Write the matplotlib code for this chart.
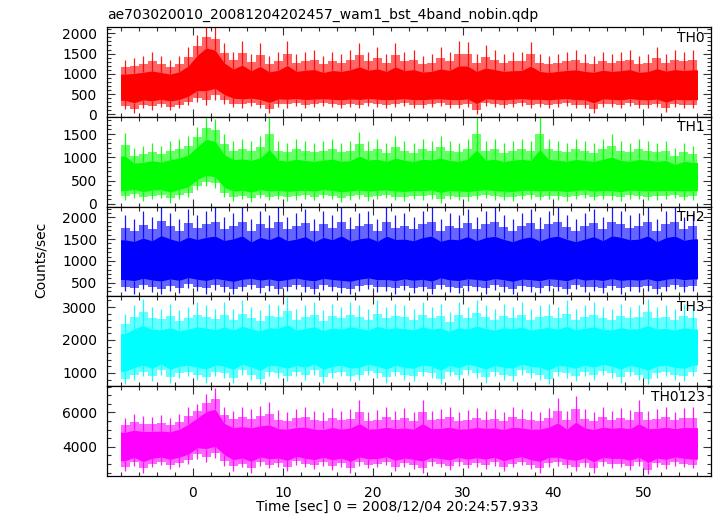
import numpy as np
import matplotlib
matplotlib.use("Agg")
import matplotlib.pyplot as plt
from matplotlib.ticker import MultipleLocator

plt.rcParams['font.family'] = ['DejaVu Sans']

title = "ae703020010_20081204202457_wam1_bst_4band_nobin.qdp"
xlabel = "Time [sec] 0 = 2008/12/04 20:24:57.933"
ylabel = "Counts/sec"
bands = ["TH0", "TH1", "TH2", "TH3", "TH0123"]
colors = ["#ff0000", "#00ff00", "#0000ff", "#00ffff", "#ff00ff"]

# 1-second bins from -8 s to 56 s
t_start, t_end = -8, 56

# ---- TH0 ----
th0_mean = [700, 690, 700, 680, 690, 700, 720, 820, 1050, 1180, 1120, 880,
            760, 740, 730, 720, 720, 710, 720, 700, 710, 700, 690, 700, 700, 690,
            700, 710, 690, 700, 700, 690, 700, 710, 700, 690, 700, 700, 710, 700,
            690, 700, 700, 690, 700, 710, 700, 690, 700, 700, 690, 700, 700, 710,
            700, 690, 700, 700, 690, 700, 710, 700, 700, 690]
th0_hi = [1350, 1400, 1450, 1550, 1450, 1350, 1450, 1650, 1950, 2200, 2150, 1750,
          1550, 1800, 1500, 1750, 1450, 1550, 1800, 1500, 1550, 1600, 1450, 1550,
          1500, 1600, 1750, 1550, 1650, 1500, 1750, 1550, 1600, 1450, 1500, 1650,
          1550, 1800, 1780, 1500, 1700, 1600, 1500, 1550, 1550, 1780, 1500, 1450,
          1500, 1550, 1600, 1500, 1450, 1550, 1500, 1550, 1600, 1450, 1500, 1650,
          1500, 1600, 1550, 1600]
th0_lo = [130, 40, 150, 120, 180, 100, 150, 220, 300, 220, 350, 250,
          180, 160, 200, 150, 30, 180, 160, 200, 150, 180, 200, 170, 150, 190,
          160, 200, 180, 150, 170, 200, 160, 150, 180, 200, 160, 150, 180, 0,
          200, 170, 150, 180, 200, 160, 170, 150, 180, 200, 160, 150, 30, 180,
          170, 150, 200, 160, 150, 180, 50, 170, 150, 160]

# ---- TH1 ----
th1_mean = [620, 610, 600, 620, 610, 620, 640, 720, 880, 1000, 950, 700,
            620, 610, 600, 610, 600, 600, 610, 600, 590, 600, 610, 600, 600, 590,
            600, 610, 600, 590, 600, 600, 590, 600, 610, 600, 590, 600, 600, 590,
            600, 600, 590, 600, 600, 590, 600, 590, 600, 600, 590, 600, 590, 600,
            600, 590, 600, 590, 600, 600, 590, 560, 600, 600]
th1_hi = [1530, 1200, 1250, 1300, 1250, 1350, 1400, 1450, 1650, 1860, 1820, 1500,
          1350, 1400, 1350, 1450, 1860, 1350, 1300, 1400, 1350, 1300, 1350, 1400,
          1300, 1350, 1550, 1350, 1400, 1300, 1450, 1350, 1300, 1400, 1350, 1450,
          1350, 1300, 1400, 1860, 1350, 1400, 1300, 1350, 1400, 1350, 1860, 1400,
          1350, 1300, 1400, 1350, 1300, 1400, 1500, 1350, 1300, 1400, 1350, 1300,
          1350, 1200, 1300, 1250]
th1_lo = [80, 130, 60, 100, 120, 30, 110, 150, 300, 380, 350, 150,
          60, 100, 40, 120, 80, 100, 60, 90, 110, 80, 120, 100, 50, 90,
          110, 70, 100, 120, 80, 60, 100, 90, 110, 30, 100, 80, 60, 100,
          120, 90, 80, 60, 100, 110, 80, 100, 90, 60, 100, 120, 80, 100,
          90, 60, 110, 100, 80, 90, 100, 120, 80, 90]

# ---- TH2 ----
th2_mean = [1020, 1030, 1010, 1020, 1040, 1020, 1030, 1010, 1030, 1040, 1020, 1030,
            1020, 1030, 1010, 1040, 1020, 1030, 1020, 1010, 1030, 1020, 1040, 1020,
            1030, 1010, 1020, 1030, 1040, 1020, 1030, 1010, 1020, 1030, 1020, 1040,
            1010, 1020, 1030, 1020, 1030, 1010, 1040, 1020, 1030, 1020, 1010, 1030,
            1020, 1040, 1020, 1010, 1030, 1020, 1030, 1040, 1020, 1010, 1030, 1020,
            1030, 1020, 1040, 1020]
th2_hi = [2050, 1950, 2150, 2000, 2240, 2100, 1950, 2200, 2050, 2150, 2240, 2000,
          2100, 2240, 1950, 2150, 2050, 2240, 2000, 2100, 2200, 1950, 2150, 2050,
          2240, 2000, 2100, 2150, 1950, 2240, 2050, 2100, 2000, 2150, 2240, 1950,
          2100, 2050, 2200, 2000, 2150, 2240, 2050, 1950, 2100, 2200, 2000, 2150,
          2240, 2050, 1950, 2100, 2200, 2000, 2240, 2150, 2050, 2100, 2240, 1950,
          2150, 2240, 2000, 2100]
th2_lo = [300, 250, 350, 280, 230, 320, 260, 380, 300, 250, 340, 280,
          230, 300, 350, 260, 320, 240, 300, 360, 280, 250, 330, 300,
          260, 240, 310, 350, 280, 300, 250, 330, 270, 300, 240, 350,
          290, 260, 320, 300, 250, 340, 280, 230, 310, 290, 260, 320,
          300, 240, 350, 280, 300, 260, 330, 250, 300, 280, 320, 240,
          300, 350, 280, 320]

# ---- TH3 ----
th3_mean = [1700, 1760, 1780, 1770, 1790, 1780, 1770, 1780, 1790, 1800, 1790, 1780,
            1770, 1780, 1790, 1770, 1780, 1790, 1780, 1770, 1780, 1790, 1780, 1770,
            1780, 1790, 1780, 1770, 1780, 1790, 1780, 1770, 1780, 1790, 1780, 1770,
            1780, 1740, 1780, 1790, 1780, 1770, 1780, 1790, 1780, 1770, 1780, 1790,
            1780, 1770, 1780, 1790, 1780, 1770, 1780, 1790, 1780, 1770, 1780, 1790,
            1780, 1770, 1780, 1790]
th3_hi = [2800, 3050, 3250, 3000, 2950, 3100, 2900, 3000, 3150, 3050, 2950, 3150,
          2950, 3200, 3000, 2900, 3100, 3050, 3300, 2950, 3050, 3150, 2900, 3100,
          3000, 3150, 3050, 2950, 3200, 3000, 3100, 3050, 2950, 3150, 3000, 3100,
          2850, 3150, 3000, 3200, 3050, 2950, 3100, 3000, 3150, 2950, 3050, 3100,
          3000, 3200, 2950, 3050, 3150, 3000, 2950, 3100, 3000, 3050, 3250, 3000,
          3050, 2950, 3100, 3000]
th3_lo = [650, 800, 900, 750, 950, 700, 850, 900, 800, 700, 900, 850,
          700, 950, 800, 650, 900, 850, 750, 900, 800, 950, 700, 850,
          900, 750, 800, 950, 850, 700, 900, 800, 750, 900, 850, 650,
          900, 800, 950, 850, 700, 900, 800, 750, 950, 850, 800, 650,
          900, 850, 750, 900, 800, 950, 850, 700, 900, 800, 650, 850,
          900, 800, 750, 900]

# ---- TH0123 ----
th0123_mean = [4150, 4200, 4150, 4200, 4150, 4200, 4300, 4500, 5000, 5200, 5150, 4600,
               4300, 4250, 4200, 4250, 4200, 4150, 4200, 4250, 4200, 4150, 4200, 4200,
               4150, 4200, 4250, 4200, 4150, 4200, 4200, 4150, 4200, 4250, 4200, 4150,
               4200, 4200, 4150, 4200, 4250, 4200, 4150, 4200, 4200, 4150, 4200, 4250,
               4200, 4150, 4200, 4200, 4150, 4200, 4250, 4200, 4150, 4200, 4200, 4150,
               4200, 4250, 4200, 4150]
th0123_hi = [5700, 5900, 5800, 5750, 5850, 5700, 5900, 6300, 6500, 7100, 7450, 6300,
             6100, 6300, 6200, 6400, 6600, 6150, 6050, 6200, 6300, 6100, 6000, 6250,
             6100, 6200, 6700, 6050, 6150, 6300, 6100, 6250, 6050, 6700, 6100, 6200,
             6300, 6050, 6150, 6250, 6100, 6200, 6050, 6300, 6200, 6100, 6050, 6250,
             6850, 6100, 6950, 6200, 6050, 6300, 6100, 6250, 6150, 6750, 6100, 6200,
             6300, 6050, 6250, 6300]
th0123_lo = [2600, 2900, 2500, 2800, 2950, 2700, 2850, 3000, 3300, 3100, 3350, 2900,
             2600, 2800, 2500, 2900, 2750, 2850, 2600, 2950, 2800, 2700, 2900, 2650,
             2850, 2500, 2900, 2750, 2800, 2950, 2600, 2850, 2700, 2500, 2900, 2800,
             2650, 2900, 2750, 2850, 2700, 2900, 2600, 2800, 2950, 2700, 2500, 2850,
             2900, 2750, 2600, 2850, 2500, 2900, 2750, 2800, 2650, 2900, 2400, 2850,
             2700, 2900, 2800, 2750]

series_mean = [th0_mean, th1_mean, th2_mean, th3_mean, th0123_mean]
series_hi = [th0_hi, th1_hi, th2_hi, th3_hi, th0123_hi]
series_lo = [th0_lo, th1_lo, th2_lo, th3_lo, th0123_lo]

ylims = [(-60, 2155), (-58, 1870), (185, 2245), (597, 3324), (2300, 7530)]
ymajor = [500, 500, 500, 1000, 2000]
yminor = [100, 100, 100, 200, 500]
xlim = (-9.5, 57.5)

W, H = 717, 516
fig = plt.figure(figsize=(W / 100, H / 100), dpi=100)

left, right = 107 / W, 711 / W
top_px, bot_px = 27, 476
ph = (bot_px - top_px) / 5

for i in range(5):
    y0 = 1 - (top_px + (i + 1) * ph) / H
    ax = fig.add_axes([left, y0, right - left, ph / H])
    m = np.array(series_mean[i], dtype=float)
    hi = np.array(series_hi[i], dtype=float)
    lo = np.array(series_lo[i], dtype=float)
    n = len(m)
    tc = t_start + 0.5 + np.arange(n)
    x = np.r_[t_start, tc, t_end]
    mm = np.r_[m[0], m, m[-1]]
    hh = np.r_[hi[0], hi, hi[-1]]
    ll = np.r_[lo[0], lo, lo[-1]]
    c = colors[i]
    core_top = mm + 0.45 * (hh - mm)
    core_bot = mm - 0.62 * (mm - ll)
    # light fringe, dense core, and the per-second extreme spikes
    ax.fill_between(x, mm - 0.85 * (mm - ll), mm + 0.72 * (hh - mm),
                    color=c, alpha=0.6, lw=0, step='mid')
    ax.fill_between(x, core_bot, core_top, color=c, alpha=1.0, lw=0)
    ax.vlines(tc, m + 0.45 * (hi - m), hi, color=c, lw=0.9, alpha=0.9)
    ax.vlines(tc, lo, m - 0.62 * (m - lo), color=c, lw=0.9, alpha=0.9)
    ax.set_xlim(*xlim)
    ax.set_ylim(*ylims[i])
    ax.xaxis.set_major_locator(MultipleLocator(10))
    ax.xaxis.set_minor_locator(MultipleLocator(2))
    ax.yaxis.set_major_locator(MultipleLocator(ymajor[i]))
    ax.yaxis.set_minor_locator(MultipleLocator(yminor[i]))
    ax.tick_params(which='both', direction='in', top=True, right=True,
                   labelsize=10, width=0.8, color='#333333')
    ax.tick_params(which='major', length=6, pad=7)
    ax.tick_params(which='minor', length=3)
    for s in ax.spines.values():
        s.set_linewidth(0.9)
    if i < 4:
        ax.tick_params(labelbottom=False)
    ax.text(0.99, 0.96, bands[i], transform=ax.transAxes, ha='right',
            va='top', fontsize=10)

fig.text(107 / W, 1 - 15 / H, title, ha='left', va='center', fontsize=10)
fig.text(41 / W, 1 - 259.5 / H, ylabel, rotation=90, ha='center',
         va='center', fontsize=10)
fig.text(397.5 / W, 1 - 507 / H, xlabel, ha='center', va='center', fontsize=10)

fig.savefig("out.png", dpi=100)
